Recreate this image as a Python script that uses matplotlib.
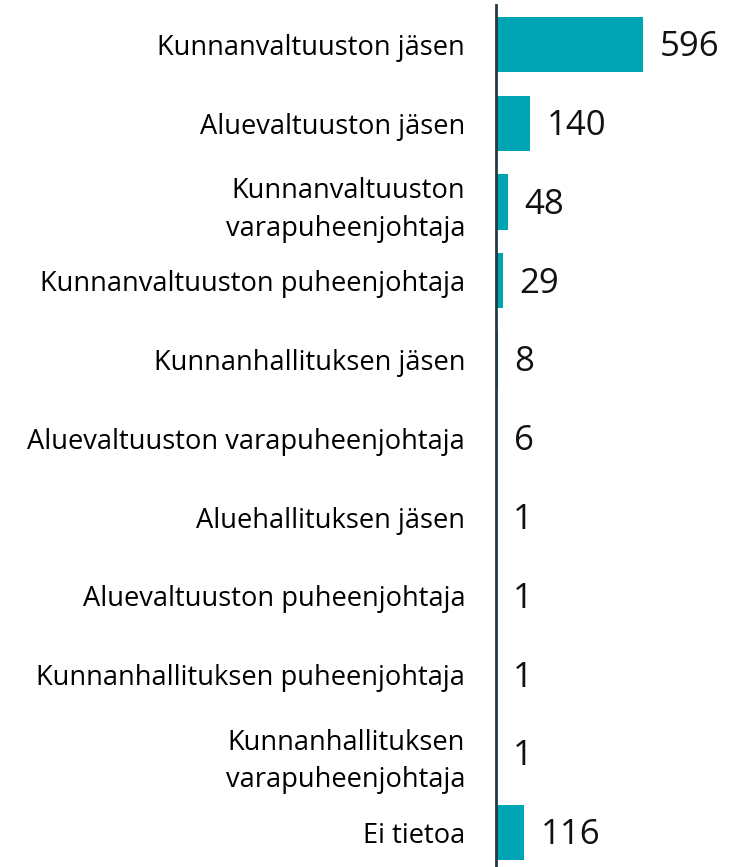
import matplotlib.pyplot as plt

plt.rcParams['font.family'] = ['Open Sans', 'DejaVu Sans']

labels = ['Kunnanvaltuuston jäsen', 'Aluevaltuuston jäsen', 'Kunnanvaltuuston\nvarapuheenjohtaja',
          'Kunnanvaltuuston puheenjohtaja', 'Kunnanhallituksen jäsen', 'Aluevaltuuston varapuheenjohtaja',
          'Aluehallituksen jäsen', 'Aluevaltuuston puheenjohtaja', 'Kunnanhallituksen puheenjohtaja',
          'Kunnanhallituksen\nvarapuheenjohtaja', 'Ei tietoa']
values = [596, 140, 48, 29, 8, 6, 1, 1, 1, 1, 116]

fig = plt.figure(figsize=(7.4, 8.67), dpi=100)
ax = fig.add_axes([0.670, 0.0, 0.330, 1 - 5 / 867])
pos = list(range(len(values)))
ax.barh(pos, values, height=0.7, color='#00A5B5')
for p, v in zip(pos, values):
    ax.annotate(str(v), (v, p), xytext=(12, -2), textcoords='offset points',
                va='center', ha='left', fontsize=25, color='#111111')

ax.set_xlim(0, 989)
ax.set_ylim(10.44, -0.5)
ax.set_yticks(pos)
ax.set_yticklabels(labels, fontsize=19.6, linespacing=1.45)
ax.tick_params(axis='y', length=0, pad=22)
ax.set_xticks([])
for s in ['top', 'right', 'bottom']:
    ax.spines[s].set_visible(False)
ax.spines['left'].set_color('#1f3b45')
ax.spines['left'].set_linewidth(2)

fig.savefig('out.png', dpi=100)
